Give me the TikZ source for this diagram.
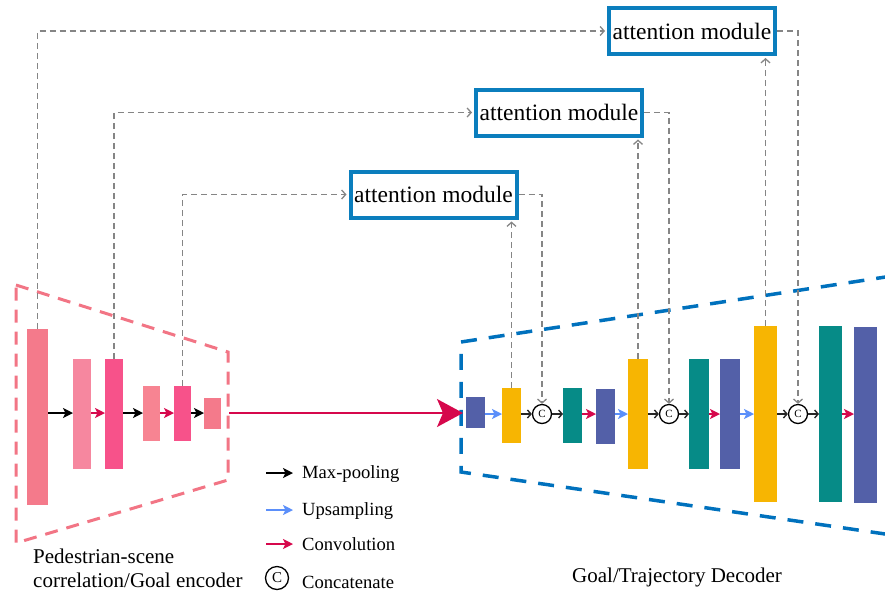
\documentclass[tikz,border=0pt]{standalone}
\usepackage{fontspec}
\setmainfont{Liberation Serif}
\usetikzlibrary{arrows.meta}
\definecolor{encA}{HTML}{F47A8B}
\definecolor{encB}{HTML}{F6879F}
\definecolor{encC}{HTML}{F7528A}
\definecolor{encD}{HTML}{F78492}
\definecolor{dpur}{HTML}{5360A8}
\definecolor{dyel}{HTML}{F7B502}
\definecolor{dteal}{HTML}{068B87}
\definecolor{conv}{HTML}{D6084C}
\definecolor{ups}{HTML}{5B8FFA}
\definecolor{pinkd}{HTML}{F27585}
\definecolor{blued}{HTML}{0071BD}
\definecolor{attb}{HTML}{0B7EBD}
\definecolor{grayd}{HTML}{858585}
\begin{document}
\begin{tikzpicture}[x=1pt,y=-1pt,
  blk/.style={rectangle, draw=none, inner sep=0pt, outer sep=0pt},
  cat/.style={circle, draw, line width=1.3pt, minimum size=19pt, inner sep=0pt, font=\fontsize{11}{12}\selectfont},
  att/.style={draw=attb, fill=white, line width=4pt, minimum width=166pt, minimum height=46pt, inner sep=0pt, font=\fontsize{23.5}{28}\selectfont},
  poolarr/.style={-{Stealth[length=10pt,width=10pt,inset=2.5pt]}, line width=1.6pt, black},
  convarr/.style={-{Stealth[length=10pt,width=10pt,inset=2.5pt]}, line width=1.6pt, conv},
  uparr/.style={-{Stealth[length=10pt,width=10pt,inset=2.5pt]}, line width=1.6pt, ups},
  catarr/.style={-{Straight Barb[length=3.5pt,width=8pt]}, line width=1.4pt, black!85},
  skip/.style={dash pattern=on 6pt off 4pt, line width=1.3pt, grayd},
  skiparr/.style={skip, -{Straight Barb[length=4pt,width=9pt]}},
  lbl/.style={anchor=base west, inner sep=0pt, font=\fontsize{21}{25}\selectfont},
  leg/.style={anchor=base west, inner sep=0pt, font=\fontsize{18.6}{22}\selectfont},
]
\useasboundingbox (0,0) rectangle (885,598);

% trapezoids
\draw[pinkd, line width=3pt, dash pattern=on 13pt off 9pt] (16,285) -- (228,352) -- (228,480) -- (16,543) -- cycle;
\draw[blued, line width=3.5pt, dash pattern=on 16pt off 12pt] (892,276) -- (461,342) -- (461,472) -- (892,535);

% encoder blocks
\node[blk, fill=encA, minimum width=21pt, minimum height=176pt] (e1) at (37.5,417) {};
\node[blk, fill=encB, minimum width=18pt, minimum height=110pt] (e2) at (82,414) {};
\node[blk, fill=encC, minimum width=18pt, minimum height=110pt] (e3) at (114,414) {};
\node[blk, fill=encD, minimum width=17pt, minimum height=55pt] (e4) at (151.5,413.5) {};
\node[blk, fill=encC, minimum width=17pt, minimum height=55pt] (e5) at (182.5,413.5) {};
\node[blk, fill=encA, minimum width=17pt, minimum height=31pt] (e6) at (212.5,413.5) {};

% decoder blocks
\node[blk, fill=dpur, minimum width=19pt, minimum height=31pt] (d1) at (475.5,412.5) {};
\node[blk, fill=dyel, minimum width=19pt, minimum height=55pt] (d2) at (511.5,415.5) {};
\node[cat] (c1) at (542,414) {C};
\node[blk, fill=dteal, minimum width=19pt, minimum height=55pt] (d3) at (572.5,415.5) {};
\node[blk, fill=dpur, minimum width=19pt, minimum height=55pt] (d4) at (605.5,416.5) {};
\node[blk, fill=dyel, minimum width=20pt, minimum height=110pt] (d5) at (638,414) {};
\node[cat] (c2) at (669,414) {C};
\node[blk, fill=dteal, minimum width=20pt, minimum height=110pt] (d6) at (699,414) {};
\node[blk, fill=dpur, minimum width=20pt, minimum height=110pt] (d7) at (730,414) {};
\node[blk, fill=dyel, minimum width=23pt, minimum height=176pt] (d8) at (765.5,414) {};
\node[cat] (c3) at (798,414) {C};
\node[blk, fill=dteal, minimum width=23pt, minimum height=176pt] (d9) at (830.5,414) {};
\node[blk, fill=dpur, minimum width=23pt, minimum height=176pt] (d10) at (865.5,415) {};

% attention modules
\node[att] (A1) at (433.5,194.5) {attention module};
\node[att] (A2) at (559,112.5) {attention module};
\node[att] (A3) at (692,31) {attention module};

% encoder arrows
\coordinate (ey) at (0,413);
\coordinate (dy) at (0,414);
\draw[poolarr] (e1.east |- ey) -- (e2.west |- ey);
\draw[convarr] (e2.east |- ey) -- (e3.west |- ey);
\draw[poolarr] (e3.east |- ey) -- (e4.west |- ey);
\draw[convarr] (e4.east |- ey) -- (e5.west |- ey);
\draw[poolarr] (e5.east |- ey) -- (e6.west |- ey);
\coordinate (eout) at (229,413);
\draw[conv, line width=1.5pt, -{Stealth[length=26pt,width=28pt,inset=6pt]}] (eout) -- ([xshift=-3pt]d1.west |- ey);

% decoder arrows
\draw[uparr] (d1.east |- dy) -- (d2.west |- dy);
\draw[catarr] (d2.east |- dy) -- (c1.west);
\draw[catarr] (c1.east) -- (d3.west |- dy);
\draw[convarr] (d3.east |- dy) -- (d4.west |- dy);
\draw[uparr] (d4.east |- dy) -- (d5.west |- dy);
\draw[catarr] (d5.east |- dy) -- (c2.west);
\draw[catarr] (c2.east) -- (d6.west |- dy);
\draw[convarr] (d6.east |- dy) -- (d7.west |- dy);
\draw[uparr] (d7.east |- dy) -- (d8.west |- dy);
\draw[catarr] (d8.east |- dy) -- (c3.west);
\draw[catarr] (c3.east) -- (d9.west |- dy);
\draw[convarr] (d9.east |- dy) -- (d10.west |- dy);

% skip connections
\draw[skiparr, shorten >=2pt] (e1.north) |- (A3.west);
\draw[skiparr, shorten >=2pt] (e3.north) |- (A2.west);
\draw[skiparr, shorten >=2pt] (e5.north) |- (A1.west);
\draw[skiparr] (A1.east) -| (c1.north);
\draw[skiparr] (A2.east) -| (c2.north);
\draw[skiparr] (A3.east) -| (c3.north);
\draw[skiparr, shorten >=2pt] (d2.north) -- (d2.north |- A1.south);
\draw[skiparr, shorten >=2pt] (d5.north) -- (d5.north |- A2.south);
\draw[skiparr, shorten >=2pt] (d8.north) -- (d8.north |- A3.south);

% legend
\coordinate (l1a) at (266,473); \coordinate (l1b) at (293,473);
\coordinate (l2a) at (266,510); \coordinate (l2b) at (293,510);
\coordinate (l3a) at (266,544); \coordinate (l3b) at (293,544);
\draw[poolarr] (l1a) -- (l1b);
\draw[uparr] (l2a) -- (l2b);
\draw[convarr] (l3a) -- (l3b);
\node[circle, draw, line width=1.3pt, minimum size=23pt, inner sep=0pt, font=\fontsize{15}{16}\selectfont] (lc) at (277,578) {C};
\node[leg] (t1) at (302,478) {Max-pooling};
\node[leg] (t2) at (302,515) {Upsampling};
\node[leg] (t3) at (302,550) {Convolution};
\node[leg] (t4) at (302,588) {Concatenate};

% labels
\node[lbl] (encl1) at (33,563) {Pedestrian-scene};
\node[lbl] (encl2) at (33,587) {correlation/Goal encoder};
\node[lbl] (decl) at (572,582) {Goal/Trajectory Decoder};
\end{tikzpicture}
\end{document}
